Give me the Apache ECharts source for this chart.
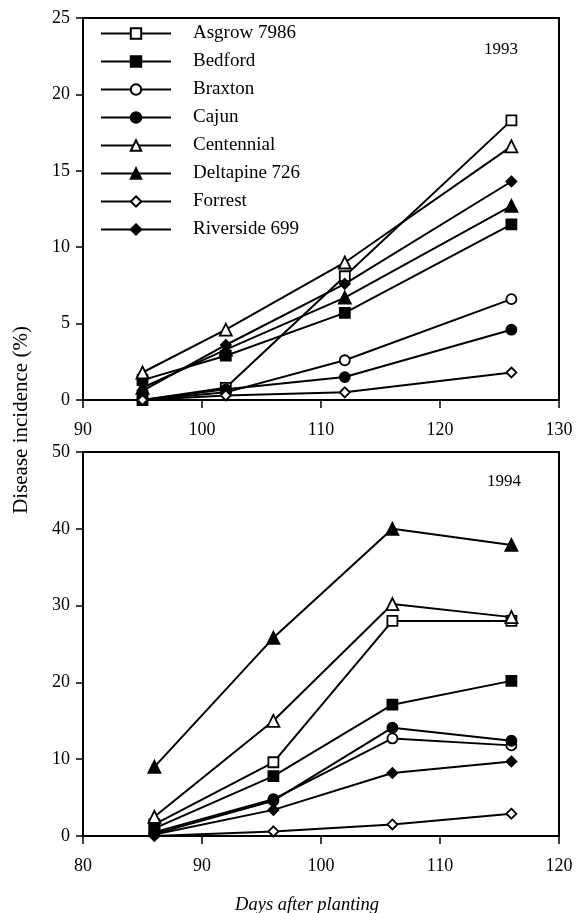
<!DOCTYPE html>
<html>
<head>
<meta charset="utf-8">
<script src="https://cdn.jsdelivr.net/npm/echarts@6/dist/echarts.min.js"></script>
<style>
  html, body { margin: 0; padding: 0; background: #fff; }
  #main { width: 585px; height: 913px; }
</style>
</head>
<body>
<div id="main"></div>
<script>
// cultivars, same order in both years
var names = ['Asgrow 7986', 'Bedford', 'Braxton', 'Cajun', 'Centennial', 'Deltapine 726', 'Forrest', 'Riverside 699'];
var symbols = ['rect', 'rect', 'circle', 'circle', 'triangle', 'triangle', 'diamond', 'diamond'];
var openMarker = [true, false, true, false, true, false, true, false];

// 1993 (top panel)
var days93 = [95, 102, 112, 126];
var asgrow93 = [0, 0.8, 8.1, 18.3];
var bedford93 = [1.3, 2.9, 5.7, 11.5];
var braxton93 = [0, 0.5, 2.6, 6.6];
var cajun93 = [0, 0.7, 1.5, 4.6];
var centennial93 = [1.8, 4.6, 9.0, 16.6];
var deltapine93 = [0.8, 3.3, 6.7, 12.7];
var forrest93 = [0, 0.3, 0.5, 1.8];
var riverside93 = [0.6, 3.6, 7.6, 14.3];

// 1994 (bottom panel)
var days94 = [86, 96, 106, 116];
var asgrow94 = [1.5, 9.6, 28.0, 28.0];
var bedford94 = [1.0, 7.8, 17.1, 20.2];
var braxton94 = [0.5, 4.8, 12.7, 11.8];
var cajun94 = [0.3, 4.6, 14.1, 12.4];
var centennial94 = [2.5, 15.0, 30.2, 28.5];
var deltapine94 = [9.0, 25.8, 40.0, 37.9];
var forrest94 = [0, 0.6, 1.5, 2.9];
var riverside94 = [0.2, 3.4, 8.2, 9.7];

var values93 = [asgrow93, bedford93, braxton93, cajun93, centennial93, deltapine93, forrest93, riverside93];
var values94 = [asgrow94, bedford94, braxton94, cajun94, centennial94, deltapine94, forrest94, riverside94];

var font = 'Liberation Serif';

function pairs(xs, ys) {
  var out = [];
  for (var i = 0; i < xs.length; i++) out.push([xs[i], ys[i]]);
  return out;
}

function axisX(idx, min, max) {
  return {
    type: 'value', gridIndex: idx, min: min, max: max, interval: 10,
    axisLine: { onZero: false, lineStyle: { color: '#000', width: 2 } },
    axisTick: { inside: false, length: 8, lineStyle: { color: '#000', width: 1.5 } },
    axisLabel: { color: '#000', fontFamily: font, fontSize: 18, margin: 21 },
    splitLine: { show: false }
  };
}

function axisY(idx, max, step) {
  return {
    type: 'value', gridIndex: idx, min: 0, max: max, interval: step,
    axisLine: { show: true, lineStyle: { color: '#000', width: 2 } },
    axisTick: { show: true, inside: false, length: 7, lineStyle: { color: '#000', width: 1.5 } },
    axisLabel: { color: '#000', fontFamily: font, fontSize: 18, margin: 13 },
    splitLine: { show: false }
  };
}

var series = [];
function addSeries(idx, xs, vals) {
  for (var i = 0; i < names.length; i++) {
    series.push({
      name: names[i],
      type: 'line',
      xAxisIndex: idx,
      yAxisIndex: idx,
      data: pairs(xs, vals[i]),
      symbol: symbols[i],
      symbolSize: symbols[i] == 'triangle' ? 12 : 10,
      lineStyle: { color: '#000', width: 2 },
      itemStyle: {
        color: openMarker[i] ? '#fff' : '#000',
        borderColor: '#000',
        borderWidth: 1.8
      },
      emphasis: { disabled: true },
      animation: false
    });
  }
}
addSeries(0, days93, values93);
addSeries(1, days94, values94);

var chart = echarts.init(document.getElementById('main'));
chart.setOption({
  backgroundColor: '#fff',
  grid: [
    { left: 83, top: 18, width: 476, height: 382, show: true, borderColor: '#000', borderWidth: 2 },
    { left: 83, top: 452, width: 476, height: 384, show: true, borderColor: '#000', borderWidth: 2 }
  ],
  xAxis: [axisX(0, 90, 130), axisX(1, 80, 120)],
  yAxis: [axisY(0, 25, 5), axisY(1, 50, 10)],
  legend: {
    data: names,
    orient: 'vertical',
    left: 100,
    top: 24,
    padding: 0,
    itemWidth: 70,
    itemHeight: 13,
    itemGap: 9,
    selectedMode: false,
    textStyle: { color: '#000', fontFamily: font, fontSize: 19, padding: [0, 0, 0, 17] }
  },
  graphic: [
    { type: 'text', left: 484, top: 41, style: { text: '1993', fill: '#000', font: '17px "Liberation Serif"' } },
    { type: 'text', left: 487, top: 473, style: { text: '1994', fill: '#000', font: '17px "Liberation Serif"' } },
    { type: 'text', x: 21, y: 420, rotation: Math.PI / 2,
      style: { text: 'Disease incidence (%)', fill: '#000', font: '21px "Liberation Serif"', align: 'center', verticalAlign: 'middle' } },
    { type: 'text', x: 307, y: 905,
      style: { text: 'Days after planting', fill: '#000', font: 'italic 18.5px "Liberation Serif"', align: 'center', verticalAlign: 'middle' } }
  ],
  series: series
});
</script>
</body>
</html>
